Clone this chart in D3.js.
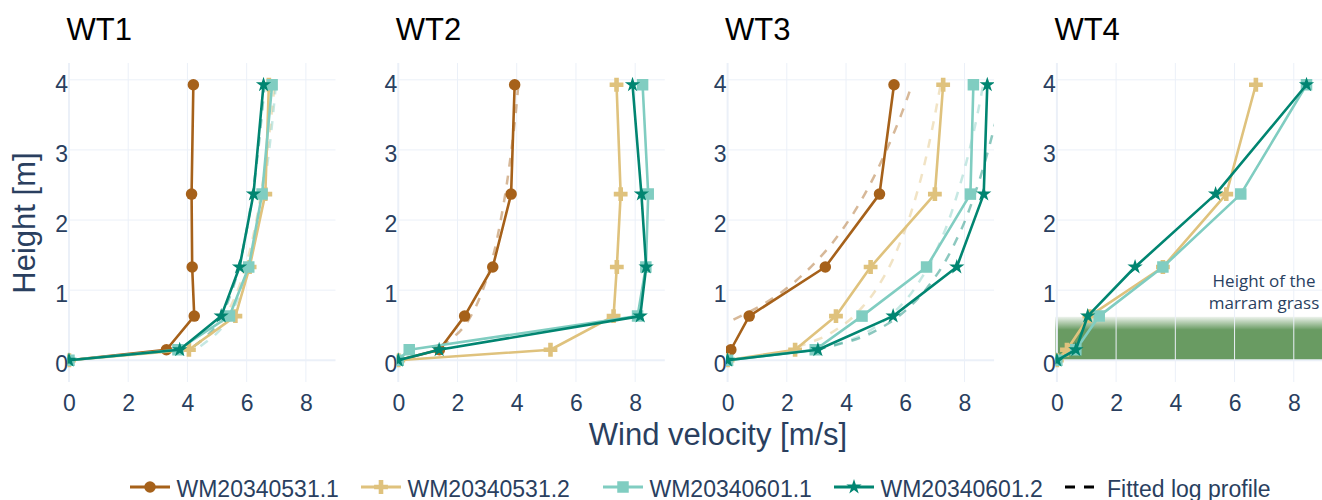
<!DOCTYPE html>
<html><head><meta charset="utf-8">
<script src="https://cdn.jsdelivr.net/npm/d3@7"></script>
<style>body{margin:0;background:#fff}svg{display:block}</style>
</head><body>
<svg id="c" width="1322" height="500"></svg>
<script>
// ---------------- DATA ----------------
const panels = ["WT1", "WT2", "WT3", "WT4"];
const seriesNames = ["WM20340531.1", "WM20340531.2", "WM20340601.1", "WM20340601.2"];
const heights = [0, 0.15, 0.63, 1.33, 2.37, 3.93];

// wind velocity per panel (WT1..WT4), null = not measured
const vel_0531_1 = [
  [0, 3.29, 4.23, 4.16, 4.14, 4.20],
  [0, 1.39, 2.24, 3.19, 3.81, 3.93],
  [0, 0.11, 0.73, 3.30, 5.13, 5.62],
  null
];
const vel_0531_2 = [
  [0, 4.05, 5.62, 6.10, 6.63, 6.75],
  [0, 5.14, 7.27, 7.38, 7.51, 7.37],
  [0, 2.28, 3.66, 4.83, 7.00, 7.28],
  [0, 0.34, 1.10, 3.58, 5.72, 6.72]
];
const vel_0601_1 = [
  [0, 3.68, 5.42, 6.07, 6.52, 6.86],
  [0, 0.37, 8.08, 8.36, 8.44, 8.25],
  [0, 2.96, 4.54, 6.72, 8.20, 8.30],
  [0, 0.64, 1.43, 3.58, 6.21, 8.43]
];
const vel_0601_2 = [
  [0, 3.74, 5.14, 5.76, 6.23, 6.57],
  [0, 1.38, 8.17, 8.37, 8.21, 7.91],
  [0, 3.05, 5.59, 7.74, 8.65, 8.77],
  [0, 0.64, 1.04, 2.64, 5.36, 8.43]
];

// fitted log profiles (heights and velocities)
const fitZ_a = [0.2, 0.4, 0.7, 1.0, 1.5, 2.0, 2.5, 3.0, 3.5, 3.95];
const fitWT1_0531_2 = [4.22, 4.86, 5.37, 5.70, 6.07, 6.33, 6.53, 6.70, 6.84, 6.95];
const fitWT1_0601_1 = [4.44, 5.03, 5.51, 5.82, 6.16, 6.41, 6.60, 6.76, 6.89, 6.99];
const fitWT1_0601_2 = [4.22, 4.78, 5.22, 5.51, 5.83, 6.06, 6.24, 6.39, 6.51, 6.61];
const fitWT2_0531_1 = [1.44, 2.05, 2.54, 2.85, 3.21, 3.46, 3.66, 3.82, 3.96, 4.06];
const fitZ_WT3_0531_1 = [0.58, 0.8, 1.0, 1.5, 2.0, 2.5, 3.0, 3.5, 3.95];
const fitWT3_0531_1 = [0.20, 1.21, 1.91, 3.19, 4.10, 4.80, 5.37, 5.86, 6.24];
const fitZ_WT3_0531_2 = [0.19, 0.3, 0.5, 0.8, 1.2, 1.8, 2.5, 3.2, 3.95];
const fitWT3_0531_2 = [2.34, 3.07, 3.89, 4.64, 5.29, 5.94, 6.47, 6.86, 7.20];
const fitZ_b = [0.15, 0.3, 0.5, 0.8, 1.2, 1.8, 2.5, 3.2, 3.95];
const fitWT3_0601_1 = [3.01, 4.21, 5.08, 5.89, 6.59, 7.29, 7.85, 8.28, 8.64];
const fitWT3_0601_2 = [3.00, 4.34, 5.33, 6.24, 7.03, 7.82, 8.45, 8.93, 9.34];

const xTicks = [0, 2, 4, 6, 8];
const yTicks = [0, 1, 2, 3, 4];
const grassTop = 0.62;
const grassLabel = ["Height of the", "marram grass"];
const legendFitLabel = "Fitted log profile";
const xTitle = "Wind velocity [m/s]";
const yTitle = "Height [m]";

// ---------------- STYLE / LAYOUT ----------------
const colors = ["#a6611a", "#dfc27d", "#80cdc1", "#018571"];
const symbols = ["circle", "cross", "square", "star"];
const markerSize = 11.5;
const tickColor = "#2a3f5f";
const gridColor = "#ebf0f8";
const grassColor = "rgb(105,155,98)";
const fontMain = "'Liberation Sans', Arial, sans-serif";
const panelLeft0 = 67.5, panelStep = 329.3, panelW = 268, plotTop = 63, plotBottom = 382;
const legendStarts = [130, 361, 603, 834, 1064];
const legendY = 487;

const allVel = [vel_0531_1, vel_0531_2, vel_0601_1, vel_0601_2];
const fits = [
  {p: 0, s: 1, z: fitZ_a, u: fitWT1_0531_2},
  {p: 0, s: 2, z: fitZ_a, u: fitWT1_0601_1},
  {p: 0, s: 3, z: fitZ_a, u: fitWT1_0601_2},
  {p: 1, s: 0, z: fitZ_a, u: fitWT2_0531_1},
  {p: 2, s: 0, z: fitZ_WT3_0531_1, u: fitWT3_0531_1},
  {p: 2, s: 1, z: fitZ_WT3_0531_2, u: fitWT3_0531_2},
  {p: 2, s: 2, z: fitZ_b, u: fitWT3_0601_1},
  {p: 2, s: 3, z: fitZ_b, u: fitWT3_0601_2}
];

function symPath(type, size) {
  const r = size / 2;
  if (type === "circle") return `M${r},0A${r},${r} 0 1,1 0,${-r}A${r},${r} 0 0,1 ${r},0Z`;
  if (type === "square") return `M${r},${r}H${-r}V${-r}H${r}Z`;
  if (type === "cross") {
    const rc = r * 0.4, rt = r * 1.2;
    return `M${rt},${rc}H${rc}V${rt}H${-rc}V${rc}H${-rt}V${-rc}H${-rc}V${-rt}H${rc}V${-rc}H${rt}Z`;
  }
  const rs = r * 1.4, x1 = rs * 0.225, x2 = rs * 0.951, x3 = rs * 0.363, x4 = rs * 0.588,
        y0 = -rs, y1 = -rs * 0.309, y3 = rs * 0.118, y4 = rs * 0.809, y2 = rs * 0.382;
  return `M${x1},${y1}H${x2}L${x3},${y3}L${x4},${y4}L0,${y2}L${-x4},${y4}L${-x3},${y3}L${-x2},${y1}H${-x1}L0,${y0}Z`;
}

const svg = d3.select("#c");
const defs = svg.append("defs");
const grad = defs.append("linearGradient").attr("id", "grassGrad")
  .attr("x1", 0).attr("y1", 0).attr("x2", 0).attr("y2", 1);
grad.append("stop").attr("offset", 0).attr("stop-color", grassColor).attr("stop-opacity", 0.12);
grad.append("stop").attr("offset", 0.3).attr("stop-color", grassColor).attr("stop-opacity", 1);
grad.append("stop").attr("offset", 1).attr("stop-color", grassColor).attr("stop-opacity", 1);

panels.forEach((pname, i) => {
  const left = panelLeft0 + i * panelStep;
  const x = d3.scaleLinear().domain([-0.05, 9]).range([left, left + panelW]);
  const y = d3.scaleLinear().domain([-0.31, 4.24]).range([plotBottom, plotTop]);
  const g = svg.append("g");

  defs.append("clipPath").attr("id", "clip" + i).append("rect")
    .attr("x", left).attr("y", plotTop).attr("width", panelW).attr("height", plotBottom - plotTop);

  // grass band (WT4)
  if (i === 3) {
    g.append("rect")
      .attr("x", x(-0.05)).attr("y", y(grassTop))
      .attr("width", x(9) - x(-0.05)).attr("height", y(0) - y(grassTop))
      .attr("fill", "url(#grassGrad)");
  }

  // grid
  g.selectAll(".vg").data(xTicks).enter().append("line")
    .attr("x1", d => x(d)).attr("x2", d => x(d)).attr("y1", plotTop).attr("y2", plotBottom)
    .attr("stroke", gridColor).attr("stroke-width", d => d === 0 ? 2 : 1);
  g.selectAll(".hg").data(yTicks).enter().append("line")
    .attr("x1", left).attr("x2", left + panelW).attr("y1", d => y(d)).attr("y2", d => y(d))
    .attr("stroke", gridColor).attr("stroke-width", d => d === 0 ? 2 : 1);

  // axes labels
  const ax = g.append("g").attr("transform", `translate(0,${plotBottom})`)
    .call(d3.axisBottom(x).tickValues(xTicks).tickSize(0).tickFormat(d3.format("d")));
  ax.select(".domain").remove();
  ax.selectAll("text").attr("dy", null).attr("y", 29)
    .attr("font-family", fontMain).attr("font-size", 23).attr("fill", tickColor);
  const ay = g.append("g").attr("transform", `translate(${left},0)`)
    .call(d3.axisLeft(y).tickValues(yTicks).tickSize(0).tickFormat(d3.format("d")));
  ay.select(".domain").remove();
  ay.selectAll("text").attr("dy", null).attr("x", 0.5).attr("y", 11.5)
    .attr("font-family", fontMain).attr("font-size", 23).attr("fill", tickColor);

  const plot = g.append("g").attr("clip-path", `url(#clip${i})`);

  // fitted log profiles
  const fitLine = d3.line().x(d => x(d[0])).y(d => y(d[1])).curve(d3.curveMonotoneY);
  fits.filter(f => f.p === i).forEach(f => {
    plot.append("path")
      .attr("d", fitLine(f.u.map((u, k) => [u, f.z[k]])))
      .attr("fill", "none").attr("stroke", colors[f.s]).attr("stroke-opacity", 0.45)
      .attr("stroke-width", 2.5).attr("stroke-dasharray", "9,9");
  });

  // measured profiles
  const line = d3.line().x(d => x(d[0])).y(d => y(d[1]));
  allVel.forEach((vals, s) => {
    const v = vals[i];
    if (!v) return;
    const pts = v.map((u, k) => [u, heights[k]]);
    plot.append("path").attr("d", line(pts)).attr("fill", "none")
      .attr("stroke", colors[s]).attr("stroke-width", 2.6).attr("stroke-linejoin", "round");
    plot.selectAll(null).data(pts).enter().append("path")
      .attr("transform", d => `translate(${x(d[0])},${y(d[1])})`)
      .attr("d", symPath(symbols[s], markerSize)).attr("fill", colors[s]);
  });

  // panel title
  svg.append("text").attr("x", left - 1).attr("y", 40).text(pname)
    .attr("font-family", fontMain).attr("font-size", 31).attr("fill", "#000");

  if (i === 3) {
    const t = svg.append("text").attr("text-anchor", "middle")
      .attr("font-family", "'Open Sans', 'Noto Sans', sans-serif").attr("font-size", 17)
      .attr("fill", tickColor);
    grassLabel.forEach((s, k) => t.append("tspan").attr("x", 1264).attr("y", 287 + k * 22).text(s));
  }
});

// axis titles
svg.append("text").attr("transform", "translate(35,223) rotate(-90)").attr("text-anchor", "middle")
  .attr("font-family", fontMain).attr("font-size", 31).attr("fill", tickColor).text(yTitle);
svg.append("text").attr("x", 718).attr("y", 445).attr("text-anchor", "middle")
  .attr("font-family", fontMain).attr("font-size", 31).attr("fill", tickColor).text(xTitle);

// legend
const lg = svg.append("g");
seriesNames.forEach((name, s) => {
  const x0 = legendStarts[s];
  lg.append("line").attr("x1", x0).attr("x2", x0 + 40).attr("y1", legendY).attr("y2", legendY)
    .attr("stroke", colors[s]).attr("stroke-width", 3);
  lg.append("path").attr("transform", `translate(${x0 + 20},${legendY})`)
    .attr("d", symPath(symbols[s], markerSize)).attr("fill", colors[s]);
  lg.append("text").attr("x", x0 + 46.5).attr("y", legendY + 9.5).text(name)
    .attr("font-family", fontMain).attr("font-size", 23).attr("fill", tickColor);
});
{
  const x0 = legendStarts[4];
  lg.append("line").attr("x1", x0 + 1).attr("x2", x0 + 31).attr("y1", legendY).attr("y2", legendY)
    .attr("stroke", "#000").attr("stroke-width", 3).attr("stroke-dasharray", "10,9");
  lg.append("text").attr("x", x0 + 43).attr("y", legendY + 9.5).text(legendFitLabel)
    .attr("font-family", fontMain).attr("font-size", 23).attr("fill", tickColor);
}
</script>
</body></html>
